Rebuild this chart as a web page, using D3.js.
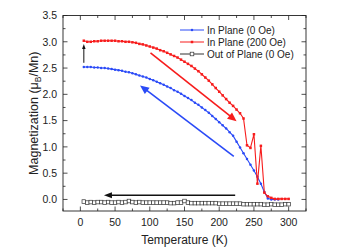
<!DOCTYPE html>
<html>
<head>
<meta charset="utf-8">
<script src="https://cdn.jsdelivr.net/npm/d3@7"></script>
<style>
  body { margin: 0; background: #fff; }
  svg { display: block; font-family: "Liberation Sans", Arial, sans-serif; }
</style>
</head>
<body>
<div class="chart"></div>
<script>
// M(T) curves, three field/orientation runs

var temps = [5, 10, 15, 20, 25, 30, 35, 40, 45, 50, 55, 60, 65, 70, 75, 80, 85, 90, 95, 100,
  105, 110, 115, 120, 125, 130, 135, 140, 145, 150, 155, 160, 165, 170, 175, 180, 185, 190, 195, 200,
  205, 210, 215, 220, 225, 230, 235, 240, 245, 250, 255, 260, 265, 270, 275, 280, 285, 290, 295, 300];

var inPlane0 = [2.52, 2.52, 2.52, 2.51, 2.51, 2.50, 2.50, 2.49, 2.48, 2.47, 2.46, 2.45, 2.43, 2.42, 2.40,
  2.38, 2.36, 2.34, 2.32, 2.29, 2.27, 2.24, 2.21, 2.18, 2.15, 2.12, 2.08, 2.05, 2.01, 1.97,
  1.93, 1.89, 1.84, 1.80, 1.75, 1.70, 1.65, 1.59, 1.53, 1.47, 1.41, 1.35, 1.28, 1.21, 1.10,
  0.99, 0.88, 0.77, 0.66, 0.55, 0.43, 0.30, 0.14, 0.02, 0.00, 0.00, 0.00]; // stops at 285 K

var inPlane200 = [3.02, 3.00, 3.00, 3.01, 3.01, 3.02, 3.02, 3.02, 3.02, 3.02, 3.01, 3.01, 3.00, 3.00, 2.99,
  2.98, 2.96, 2.95, 2.93, 2.91, 2.89, 2.87, 2.84, 2.82, 2.79, 2.76, 2.73, 2.70, 2.66, 2.62,
  2.58, 2.54, 2.49, 2.44, 2.38, 2.32, 2.26, 2.19, 2.12, 2.05, 1.98, 1.91, 1.84, 1.78, 1.71,
  1.64, 1.54, 1.03, 0.98, 1.24, 0.30, 1.02, 0.13, 0.06, 0.03, 0.01, 0.01, 0.01, 0.01, 0.01];

var outOfPlane0 = [-0.04, -0.06, -0.05, -0.06, -0.05, -0.05, -0.06, -0.05, -0.06, -0.06,
  -0.05, -0.06, -0.05, -0.03, -0.05, -0.06, -0.05, -0.06, -0.06, -0.06,
  -0.06, -0.06, -0.06, -0.06, -0.06, -0.07, -0.07, -0.06, -0.06, -0.03,
  -0.06, -0.07, -0.07, -0.07, -0.07, -0.07, -0.07, -0.07, -0.07, -0.08,
  -0.08, -0.08, -0.08, -0.08, -0.08, -0.08, -0.09, -0.09, -0.09, -0.09,
  -0.09, -0.09, -0.10, -0.10, -0.09, -0.10, -0.10, -0.10, -0.09, -0.09];

var seriesNames = ["In Plane (0 Oe)", "In Plane (200 Oe)", "Out of Plane (0 Oe)"];

var xTicks = [0, 50, 100, 150, 200, 250, 300];
var yTicks = [0.0, 0.5, 1.0, 1.5, 2.0, 2.5, 3.0, 3.5];

// annotation arrows: [T start, M start, T tip, M tip]
var arrowRed = [101, 2.79, 225, 1.49];
var arrowBlue = [221, 0.82, 86, 2.17];
var arrowBlack = [223, 0.08, 34, 0.08];
var arrowUp = [5, 2.60, 5, 2.96];

// constants
var WIDTH = 351, HEIGHT = 248;
var LEFT = 63, RIGHT = 306, TOP = 15.5, BOTTOM = 211;
var BLUE = "#2a4af7", RED = "#f71c1c";

var svg = d3.select(".chart").append("svg")
    .attr("width", WIDTH)
    .attr("height", HEIGHT);

var x = d3.scaleLinear().domain([-25, 325]).range([LEFT, RIGHT]);
var y = d3.scaleLinear().domain([-0.22, 3.5]).range([BOTTOM, TOP]);

// ticks point inward on all four sides, minor ticks halfway
var xMinor = d3.range(-25, 326, 25);
var yMinor = d3.range(0, 3.51, 0.25);

function tickLines(g, vals, len, side) {
  g.selectAll(null).data(vals).enter().append("line")
      .attr("x1", function(d){ return side == "b" || side == "t" ? x(d) : (side == "l" ? LEFT : RIGHT); })
      .attr("x2", function(d){ return side == "b" || side == "t" ? x(d) : (side == "l" ? LEFT + len : RIGHT - len); })
      .attr("y1", function(d){ return side == "l" || side == "r" ? y(d) : (side == "b" ? BOTTOM : TOP); })
      .attr("y2", function(d){ return side == "l" || side == "r" ? y(d) : (side == "b" ? BOTTOM - len : TOP + len); })
      .attr("stroke", "#222")
      .attr("stroke-width", 0.8);
}

var axes = svg.append("g");
["b", "t"].forEach(function(s){
  tickLines(axes, xMinor.filter(function(d){ return xTicks.indexOf(d) < 0; }), 2.5, s);
  tickLines(axes, xTicks, 4.5, s);
});
["l", "r"].forEach(function(s){
  tickLines(axes, yMinor.filter(function(d){ return d * 2 % 1 != 0; }), 2.5, s);
  tickLines(axes, yTicks, 4.5, s);
});

axes.append("rect")
    .attr("x", LEFT).attr("y", TOP)
    .attr("width", RIGHT - LEFT).attr("height", BOTTOM - TOP)
    .attr("fill", "none").attr("stroke", "#222").attr("stroke-width", 0.9);

// tick labels
axes.selectAll(".xl").data(xTicks).enter().append("text")
    .attr("class", "xl")
    .attr("x", function(d){ return x(d); })
    .attr("y", BOTTOM + 14.5)
    .attr("text-anchor", "middle")
    .attr("font-size", "10.5px")
    .attr("fill", "#222")
    .text(function(d){ return d; });

axes.selectAll(".yl").data(yTicks).enter().append("text")
    .attr("class", "yl")
    .attr("x", LEFT - 6)
    .attr("y", function(d){ return y(d) + 3.8; })
    .attr("text-anchor", "end")
    .attr("font-size", "10.5px")
    .attr("fill", "#222")
    .text(function(d){ return d3.format(".1f")(d); });

// axis titles
svg.append("text")
    .attr("x", (LEFT + RIGHT) / 2)
    .attr("y", 243.5)
    .attr("text-anchor", "middle")
    .attr("font-size", "12px")
    .attr("fill", "#222")
    .text("Temperature (K)");

var yTitle = svg.append("text")
    .attr("transform", "translate(38," + ((TOP + BOTTOM) / 2) + ") rotate(-90)")
    .attr("text-anchor", "middle")
    .attr("font-size", "12.5px")
    .attr("fill", "#222");
yTitle.append("tspan").text("Magnetization (\u03bc");
yTitle.append("tspan").attr("font-size", "8.5px").attr("dy", 2.5).text("B");
yTitle.append("tspan").attr("dy", -2.5).text("/Mn)");

// data
var line = d3.line()
    .x(function(d){ return x(d[0]); })
    .y(function(d){ return y(d[1]); });

var blueData = inPlane0.map(function(v, i){ return [temps[i], v]; });
var redData = inPlane200.map(function(v, i){ return [temps[i], v]; });
var blackData = outOfPlane0.map(function(v, i){ return [temps[i], v]; });

var plot = svg.append("g");

plot.append("path").datum(blackData)
    .attr("d", line).attr("fill", "none").attr("stroke", "#333").attr("stroke-width", 0.8);
plot.selectAll(".sq").data(blackData).enter().append("rect")
    .attr("class", "sq")
    .attr("x", function(d){ return x(d[0]) - 1.8; })
    .attr("y", function(d){ return y(d[1]) - 1.8; })
    .attr("width", 3.6).attr("height", 3.6)
    .attr("fill", "#fff").attr("stroke", "#333").attr("stroke-width", 0.7);

plot.append("path").datum(blueData)
    .attr("d", line).attr("fill", "none").attr("stroke", BLUE).attr("stroke-width", 1.1);
plot.selectAll(".bd").data(blueData).enter().append("circle")
    .attr("class", "bd")
    .attr("cx", function(d){ return x(d[0]); })
    .attr("cy", function(d){ return y(d[1]); })
    .attr("r", 1.25)
    .attr("fill", BLUE);

plot.append("path").datum(redData)
    .attr("d", line).attr("fill", "none").attr("stroke", RED).attr("stroke-width", 1.1);
plot.selectAll(".rd").data(redData).enter().append("rect")
    .attr("class", "rd")
    .attr("x", function(d){ return x(d[0]) - 1.25; })
    .attr("y", function(d){ return y(d[1]) - 1.25; })
    .attr("width", 2.5).attr("height", 2.5)
    .attr("fill", RED);

// arrows
function arrow(a, color, headLen, headW, sw) {
  var x0 = x(a[0]), y0 = y(a[1]), x1 = x(a[2]), y1 = y(a[3]);
  var dx = x1 - x0, dy = y1 - y0, L = Math.sqrt(dx*dx + dy*dy);
  var ux = dx / L, uy = dy / L;
  var bx = x1 - ux * headLen, by = y1 - uy * headLen;
  plot.append("line")
      .attr("x1", x0).attr("y1", y0).attr("x2", bx + ux).attr("y2", by + uy)
      .attr("stroke", color).attr("stroke-width", sw);
  plot.append("path")
      .attr("d", "M" + x1 + "," + y1 +
                 "L" + (bx - uy * headW / 2) + "," + (by + ux * headW / 2) +
                 "L" + (bx + uy * headW / 2) + "," + (by - ux * headW / 2) + "Z")
      .attr("fill", color);
}
arrow(arrowRed, RED, 9, 8, 1.6);
arrow(arrowBlue, BLUE, 9, 8, 1.6);
arrow(arrowBlack, "#111", 8, 6, 1.5);
arrow(arrowUp, "#111", 5, 3.5, 1);

// legend
var legend = svg.append("g").attr("transform", "translate(180,30)");
var legColors = [BLUE, RED, "#333"];
seriesNames.forEach(function(name, i){
  var row = legend.append("g").attr("transform", "translate(0," + (i * 12) + ")");
  row.append("line").attr("x1", 0).attr("x2", 24).attr("y1", 0).attr("y2", 0)
      .attr("stroke", legColors[i]).attr("stroke-width", 1);
  if (i == 0) row.append("circle").attr("cx", 12).attr("cy", 0).attr("r", 1.25).attr("fill", BLUE);
  if (i == 1) row.append("rect").attr("x", 10.75).attr("y", -1.25).attr("width", 2.5).attr("height", 2.5).attr("fill", RED);
  if (i == 2) row.append("rect").attr("x", 10.2).attr("y", -1.8).attr("width", 3.6).attr("height", 3.6)
      .attr("fill", "#fff").attr("stroke", "#333").attr("stroke-width", 0.7);
  row.append("text").attr("x", 27).attr("y", 3.5)
      .attr("font-size", "10px").attr("fill", "#222").text(name);
});
</script>
</body>
</html>
